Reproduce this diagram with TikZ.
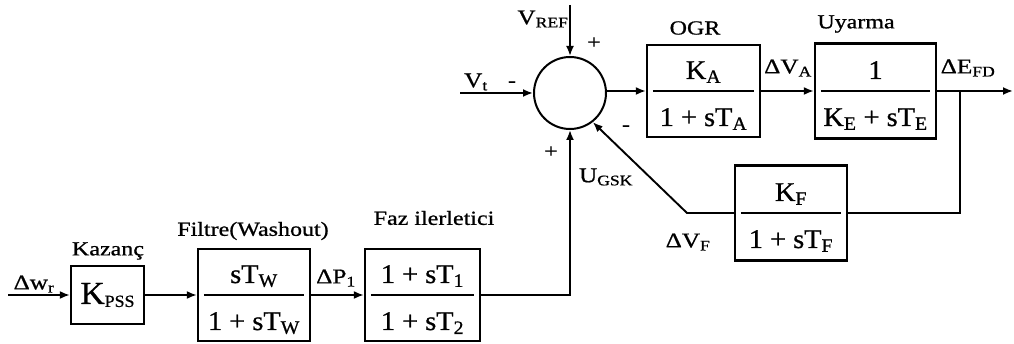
\documentclass[tikz,border=0pt]{standalone}
\usepackage{fontspec}
\setmainfont{Liberation Serif}[FakeStretch=1.2, FakeBold=0.8]
\newfontfamily\fracfont{Liberation Serif}[FakeStretch=1.05, FakeBold=0.8]
\usetikzlibrary{arrows.meta}
\begin{document}
\begin{tikzpicture}[x=1pt,y=-1pt,
  line width=1.9pt,
  blk/.style={draw, line width=2.3pt, minimum width=#1, minimum height=92pt, inner sep=0pt},
  fl/.style={line width=1.5pt},
  sig/.style={-{Latex[length=10pt,width=8pt]}, line width=1.9pt},
  lbl/.style={font=\fontsize{20}{24}\selectfont, inner sep=0pt},
  slbl/.style={font=\fontsize{21}{24}\selectfont, inner sep=0pt},
  frac/.style={font=\fracfont\fontsize{27}{30}\selectfont, inner sep=0pt, anchor=base},
  sumc/.style={draw, circle, line width=2pt, minimum size=72pt, inner sep=0pt}
]
\useasboundingbox (0,0) rectangle (1014,344);

% summing junction
\node[sumc] (s) at (570,93) {};

% top blocks
\node[blk=113pt] (ogr) at (703.5,91) {};
\draw[fl] ([xshift=7pt]ogr.west) -- ([xshift=-7pt]ogr.east);
\node[frac] (ogrn) at ([yshift=12pt]ogr.center) {K\textsubscript{A}};
\node[frac] (ogrd) at ([yshift=-35pt]ogr.center) {1 + sT\textsubscript{A}};

\node[blk=121pt, minimum height=95pt] (uy) at (875.5,91) {};
\draw[fl] ([xshift=7pt]uy.west) -- ([xshift=-7pt]uy.east);
\node[frac] (uyn) at ([yshift=12pt]uy.center) {1};
\node[frac] (uyd) at ([yshift=-35pt]uy.center) {K\textsubscript{E} + sT\textsubscript{E}};

% feedback block
\node[blk=112pt, minimum height=95pt] (kf) at (791,213) {};
\draw[fl] ([xshift=7pt]kf.west) -- ([xshift=-7pt]kf.east);
\node[frac] (kfn) at ([yshift=12pt]kf.center) {K\textsubscript{F}};
\node[frac] (kfd) at ([yshift=-35pt]kf.center) {1 + sT\textsubscript{F}};

% bottom blocks
\node[draw, line width=2.3pt, minimum width=73pt, minimum height=58pt, inner sep=0pt]
      (kpss) at (107.5,295) {\fracfont\fontsize{32}{34}\selectfont K\raisebox{-3pt}{\fontsize{17}{18}\selectfont PSS}};

\node[blk=112pt] (filt) at (254,295) {};
\draw[fl] ([xshift=7pt]filt.west) -- ([xshift=-7pt]filt.east);
\node[frac] (filtn) at ([yshift=12pt]filt.center) {sT\textsubscript{W}};
\node[frac] (filtd) at ([yshift=-35pt]filt.center) {1 + sT\textsubscript{W}};

\node[blk=115pt] (faz) at (422.5,295) {};
\draw[fl] ([xshift=7pt]faz.west) -- ([xshift=-7pt]faz.east);
\node[frac] (fazn) at ([yshift=12pt]faz.center) {1 + sT\textsubscript{1}};
\node[frac] (fazd) at ([yshift=-35pt]faz.center) {1 + sT\textsubscript{2}};

% coordinates
\coordinate (vref) at (570,5);
\coordinate (vt) at (460,93);
\coordinate (efd) at (1013,91);
\coordinate (br) at (960,91);
\coordinate (elb) at (687,213);
\coordinate (wr) at (8,295);

% connectors
\draw[sig] (vref) -- (s.north);
\draw[sig] (vt) -- (s.west);
\draw[sig] (s.east |- ogr.west) -- (ogr.west);
\draw[sig] (ogr.east) -- (uy.west);
\draw[sig] (uy.east) -- (efd);
\draw (br) |- (kf.east);
\draw[sig] (kf.west) -- (elb) -- (s.-52);
\draw[sig] (wr) -- (kpss.west);
\draw[sig] (kpss.east) -- (filt.west);
\draw[sig] (filt.east) -- (faz.west);
\draw[sig] (faz.east) -| (s.south);

% labels
\node[slbl] (lvref) at (543,19) {V\textsubscript{REF}};
\node[lbl] (pl1) at (594,43) {+};
\node[slbl] (lvt) at (476,82) {V\textsubscript{t}};
\node[lbl] (mi1) at (512,84) {-};
\node[lbl] (logr) at (695,28) {OGR};
\node[lbl] (luy) at (856,24) {Uyarma};
\node[slbl] (lva) at (788,68) {ΔV\textsubscript{A}};
\node[slbl] (lefd) at (968,68) {ΔE\textsubscript{FD}};
\node[lbl] (mi2) at (626,128) {-};
\node[slbl] (lugsk) at (606,177) {U\textsubscript{GSK}};
\node[lbl] (pl2) at (551,152) {+};
\node[slbl] (lvf) at (688,242) {ΔV\textsubscript{F}};
\node[lbl] (lkaz) at (108,251) {Kazanç};
\node[slbl] (lwr) at (34,284) {Δw\textsubscript{r}};
\node[lbl] (lfilt) at (253,231) {Filtre(Washout)};
\node[slbl] (lp1) at (336,278) {ΔP\textsubscript{1}};
\node[lbl] (lfaz) at (434,218) {Faz ilerletici};
\end{tikzpicture}
\end{document}
